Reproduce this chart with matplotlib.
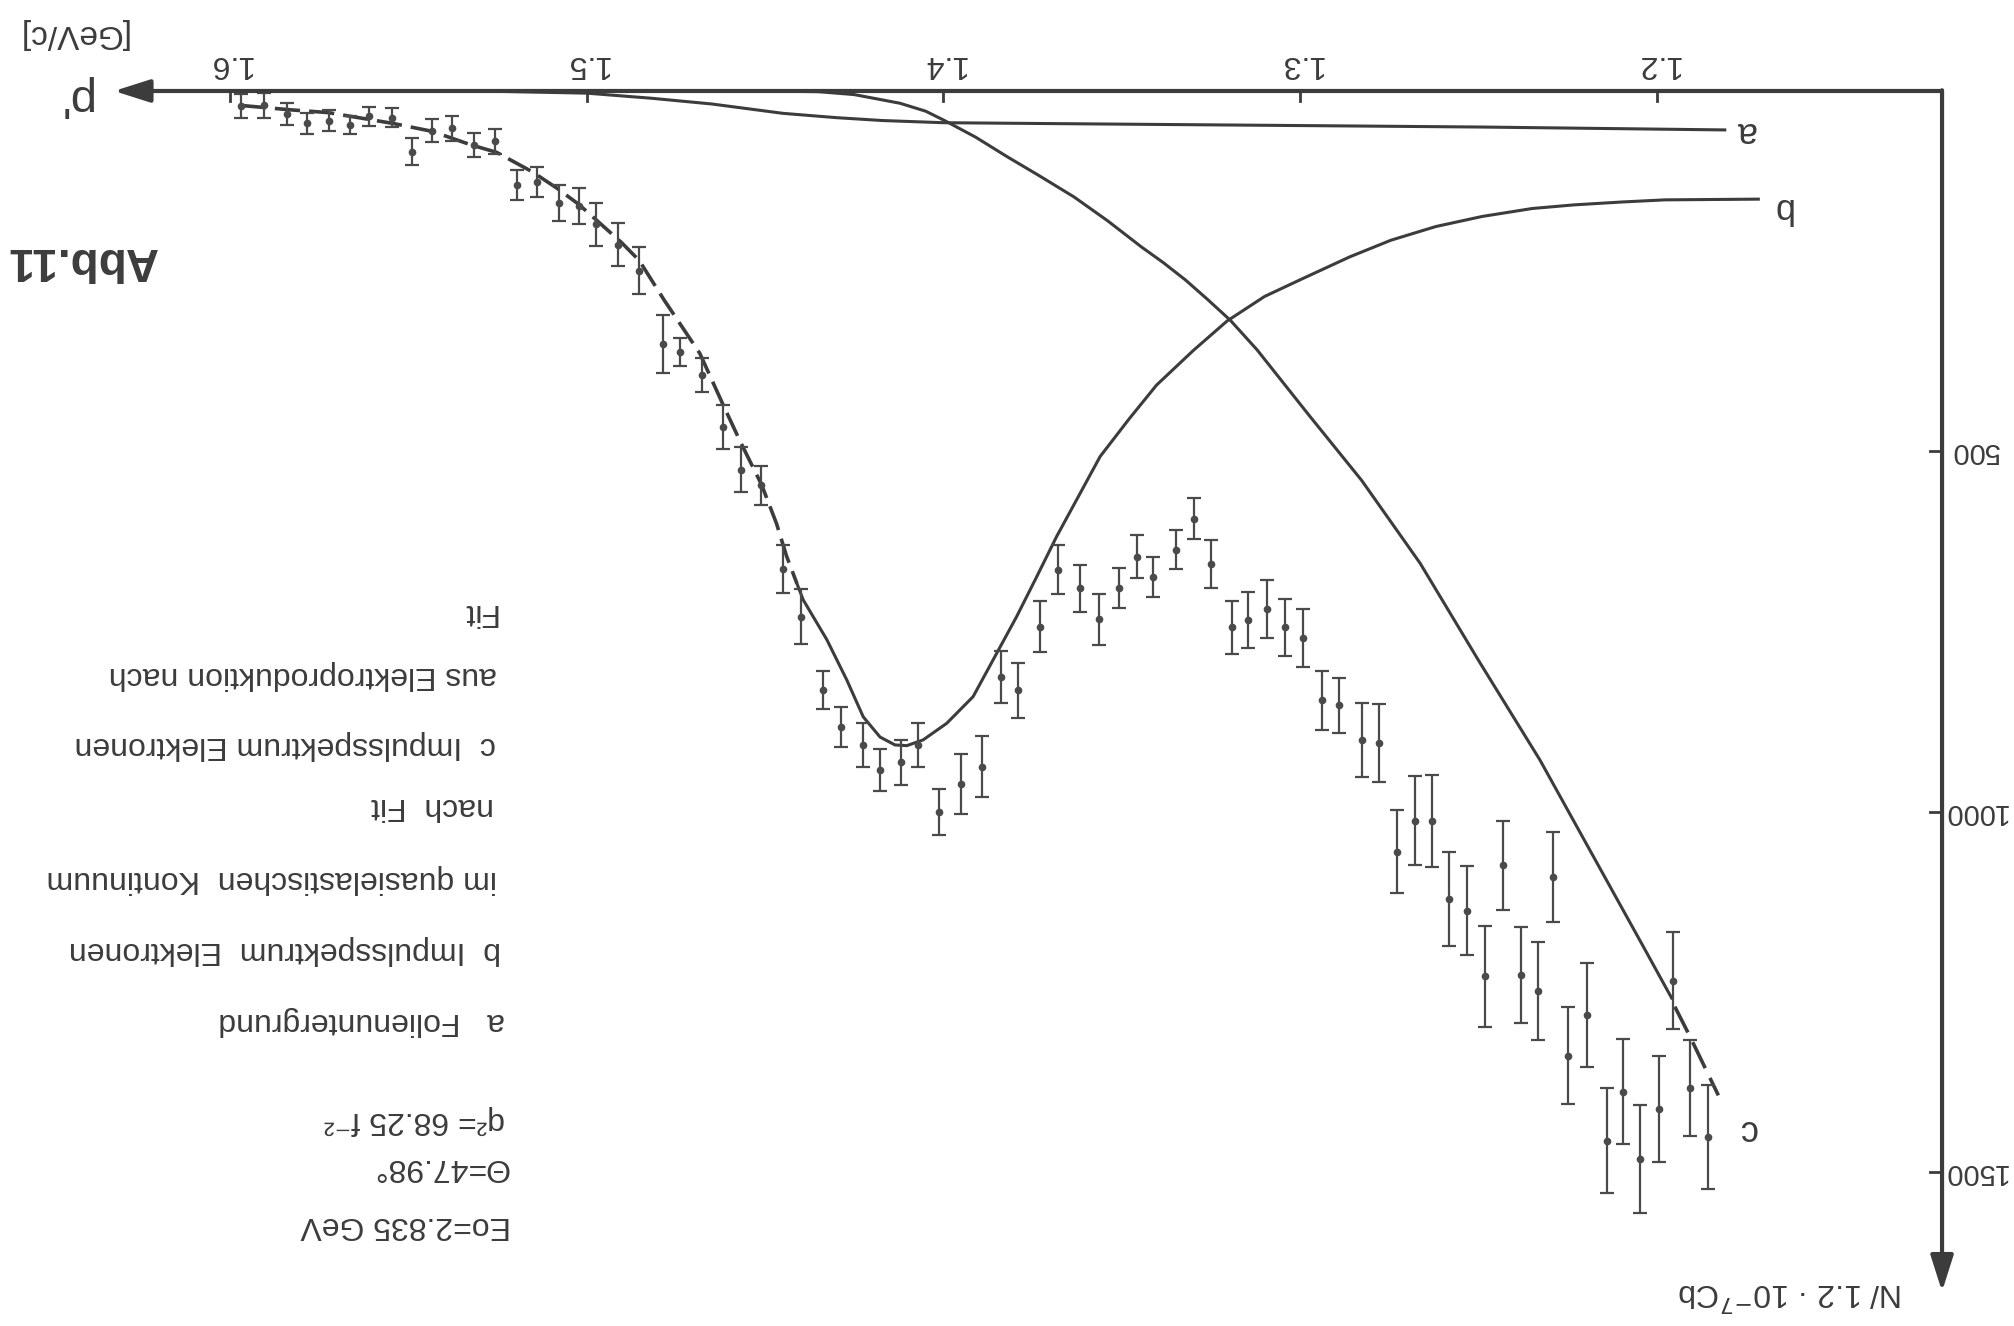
import matplotlib
matplotlib.use("Agg")
import matplotlib.pyplot as plt

# data (p' in GeV/c, N per 1.2e-7 Cb)
p_data = [1.5969, 1.5904, 1.5841, 1.5784, 1.5722, 1.5664, 1.5609, 1.5546, 1.5490, 1.5433,
          1.5378, 1.5316, 1.5258, 1.5196, 1.5140, 1.5077, 1.5021, 1.4973, 1.4913, 1.4853,
          1.4787, 1.4740, 1.4678, 1.4618, 1.4567, 1.4511, 1.4451, 1.4399, 1.4339, 1.4288,
          1.4227, 1.4178, 1.4120, 1.4071, 1.4012, 1.3950, 1.3891, 1.3840, 1.3790, 1.3730,
          1.3680, 1.3617, 1.3564, 1.3507, 1.3458, 1.3412, 1.3349, 1.3297, 1.3250, 1.3190,
          1.3146, 1.3094, 1.3043, 1.2991, 1.2940, 1.2890, 1.2828, 1.2779, 1.2730, 1.2679,
          1.2630, 1.2582, 1.2533, 1.2482, 1.2431, 1.2382, 1.2333, 1.2291, 1.2249, 1.2195,
          1.2139, 1.2094, 1.2048, 1.1994, 1.1956, 1.1907, 1.1858]
n_data = [21, 20, 32, 45, 41, 47, 35, 37, 84, 55,
          52, 75, 70, 130, 126, 155, 160, 185, 213, 249,
          351, 362, 394, 466, 525, 547, 663, 729, 831, 882,
          907, 942, 931, 907, 1000, 961, 937, 813, 831, 743,
          664, 690, 733, 689, 646, 674, 636, 593, 656, 744,
          734, 718, 744, 759, 845, 852, 900, 904, 1055, 1012,
          1012, 1121, 1137, 1228, 1074, 1226, 1248, 1090, 1338, 1282,
          1456, 1388, 1481, 1412, 1234, 1383, 1451]
n_err = [17, 17, 15, 15, 14, 13, 13, 13, 19, 16,
         18, 17, 17, 21, 21, 25, 25, 30, 30, 32,
         40, 20, 24, 31, 31, 27, 33, 38, 26, 28,
         30, 29, 31, 30, 32, 42, 42, 36, 38, 35,
         34, 33, 35, 28, 30, 28, 27, 29, 33, 37,
         39, 40, 40, 40, 41, 38, 51, 54, 58, 62,
         64, 65, 62, 70, 62, 67, 68, 62, 67, 72,
         73, 73, 75, 73, 67, 67, 72]

# curve a: Folienuntergrund
p_a = [1.530, 1.500, 1.482, 1.465, 1.445, 1.430, 1.417, 1.400, 1.350, 1.286, 1.249, 1.181]
n_a = [0, 3, 10, 18, 31, 37, 41, 44, 46, 48.5, 50, 54]

# curve b: quasielastic spectrum after fit (dashed part, then solid part)
p_b_dash = [1.5970, 1.5834, 1.5724, 1.5543, 1.5433, 1.5323, 1.5253, 1.5153, 1.5083, 1.5023,
            1.4973, 1.4903, 1.4853, 1.4783, 1.4683, 1.4618, 1.4570, 1.4510, 1.4468, 1.4440,
            1.4411]
n_b_dash = [20, 26, 30, 45, 56, 75, 85, 112, 135, 157,
            179, 210, 235, 290, 364, 435, 486, 546, 600, 645,
            683]
p_b = [1.4411, 1.4393, 1.4327, 1.4271, 1.4225, 1.4178, 1.4136, 1.4103, 1.4057, 1.3991,
       1.3917, 1.3851, 1.3795, 1.3739, 1.3683, 1.3617, 1.3561, 1.3480, 1.3403, 1.3300,
       1.3205, 1.3100, 1.3001, 1.2861, 1.2746, 1.2620, 1.2490, 1.2350, 1.2234, 1.2100,
       1.1978, 1.1716]
n_b = [683, 706, 761, 817, 868, 896, 907, 908, 900, 877,
       840, 780, 729, 674, 618, 558, 507, 455, 408, 360,
       319, 285, 262, 230, 207, 188, 174, 163, 158, 154,
       151, 150]

# curve c: electroproduction (solid, then dashed end)
p_c = [1.4500, 1.4350, 1.4250, 1.4122, 1.4050, 1.3997, 1.3910, 1.3822, 1.3730, 1.3634,
       1.3540, 1.3446, 1.3384, 1.3322, 1.3260, 1.3196, 1.3121, 1.2975, 1.2828, 1.2664,
       1.2500, 1.2328, 1.2178, 1.2038, 1.1959]
n_c = [0, 1, 5, 17, 28, 41, 64, 91, 118, 147,
       180, 216, 238, 262, 289, 318, 359, 450, 540, 655,
       790, 928, 1062, 1187, 1258]
p_c_dash = [1.1950, 1.1907, 1.1828]
n_c_dash = [1270, 1312, 1393]

x_ticks = [1.6, 1.5, 1.4, 1.3, 1.2]
x_labels = ["1.6", "1.5", "1.4", "1.3", "1.2"]
y_ticks = [500, 1000, 1500]
y_labels = ["500", "1000", "1500"]

legend_lines = [
    "Eo=2.835 GeV",
    "\u0398=47.98\u00b0",
    "q\u00b2= 68.25 f\u207b\u00b2",
    "a   Folienuntergrund",
    "b  Impulsspektrum  Elektronen",
    "im quasielastischen  Kontinuum",
    "nach  Fit",
    "c  Impulsspektrum Elektronen",
    "aus Elektroproduktion nach",
    "Fit",
]

plt.rcParams["font.family"] = ["Liberation Sans", "DejaVu Sans"]

ink = "#3c3c3c"
W, H = 2015, 1326
fig = plt.figure(figsize=(W / 100, H / 100), dpi=100)
ax = fig.add_axes([0, 0, 1, 1])
# the scan is upside down: p' grows to the left, N grows downwards
ax.set_xlim(1.66447, 1.09965)
ax.set_ylim(1712.9, -126.2)
ax.axis("off")

def put(x, y, s, **kw):
    # x, y in pixels from the top left corner of the picture
    fig.text(x / W, 1 - y / H, s, rotation=180, color=ink, **kw)

# axes with arrows
y_axis_p = 1.1201
ax.annotate("", xy=(1.6325, 0), xytext=(y_axis_p, 0),
            arrowprops=dict(arrowstyle="-|>,head_length=1.1,head_width=0.35", lw=3,
                            color=ink, shrinkA=0, shrinkB=0, mutation_scale=20))
ax.annotate("", xy=(y_axis_p, 1665), xytext=(y_axis_p, -1),
            arrowprops=dict(arrowstyle="-|>,head_length=1.1,head_width=0.35", lw=3,
                            color=ink, shrinkA=0, shrinkB=0, mutation_scale=20))
for t, lab in zip(x_ticks, x_labels):
    ax.plot([t, t], [0, 14], color=ink, lw=2)
    ax.text(t, -38, lab, rotation=180, ha="center", va="center", fontsize=23, color=ink)
for t, lab in zip(y_ticks, y_labels):
    ax.plot([y_axis_p, y_axis_p + 0.0035], [t, t], color=ink, lw=2)
    ax.text(1.1110, t, lab, rotation=180, ha="center", va="center", fontsize=21, color=ink)

# curves
ax.plot(p_a, n_a, color=ink, lw=2.2)
ax.plot(p_b_dash, n_b_dash, color=ink, lw=2.6, linestyle=(0, (7, 2.5)))
ax.plot(p_b, n_b, color=ink, lw=2.2)
ax.plot(p_c, n_c, color=ink, lw=2.2)
ax.plot(p_c_dash, n_c_dash, color=ink, lw=2.6, linestyle=(0, (8, 3)))

# measured points
ax.errorbar(p_data, n_data, yerr=n_err, fmt="o", ms=4.5, color="#4a4a4a",
            ecolor="#4a4a4a", elinewidth=1.6, capsize=5, capthick=1.6)

# curve labels
put(1745, 131, "a", fontsize=26, ha="center", va="center")
put(1782, 208, "b", fontsize=26, ha="center", va="center")
put(1748, 1130, "c", fontsize=26, ha="center", va="center")

# axis titles
put(74, 97, "p'", fontsize=34, ha="center", va="center")
put(72, 34, "[GeV/c]", fontsize=24, ha="center", va="center")
put(1790, 1292, "N/ 1.2 \u00b7 10$^{-7}$Cb", fontsize=23, ha="center", va="center")
put(82, 260, "Abb.11", fontsize=33, fontweight="bold", ha="center", va="center")

# description block, read from the right edge (text is upside down)
legend_y = [1225, 1167, 1120, 1021, 950, 879, 806, 745, 675, 612]
legend_x = [511, 509, 505, 505, 501, 497, 494, 496, 497, 496]
for s, x, y in zip(legend_lines, legend_x, legend_y):
    put(x, y, s, fontsize=23, ha="right", va="center")

fig.savefig("out.png", dpi=100, facecolor="white")
